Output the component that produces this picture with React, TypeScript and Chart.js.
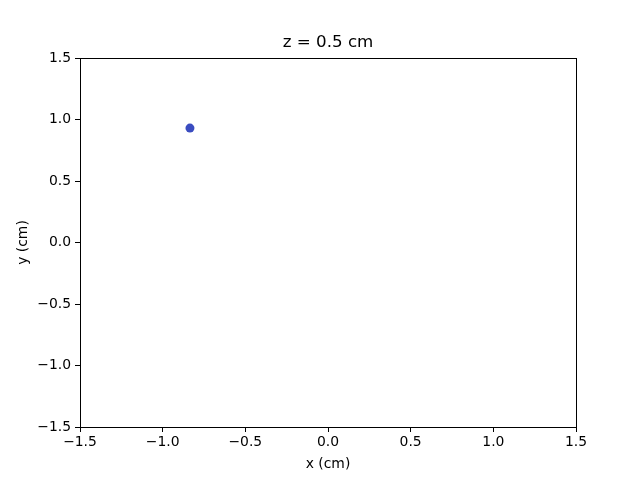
import React, { useEffect, useRef } from "react";
import { Chart, registerables } from "chart.js";

Chart.register(...registerables);

const titleText = "z = 0.5 cm";
const xLabel = "x (cm)";
const yLabel = "y (cm)";
const xTicks = [-1.5, -1.0, -0.5, 0.0, 0.5, 1.0, 1.5];
const yTicks = [-1.5, -1.0, -0.5, 0.0, 0.5, 1.0, 1.5];
const pointX = [-0.835];
const pointY = [0.93];
const pointColor = "#3a4cc0";

const FONT = "'DejaVu Sans', sans-serif";

const fmt = (v: number) => {
  const s = v.toFixed(1);
  return s.startsWith("-") ? "\u2212" + s.slice(1) : s;
};

const framePlugin = {
  id: "frame",
  afterDraw(chart: any) {
    const { ctx, chartArea } = chart;
    ctx.save();
    ctx.strokeStyle = "#000";
    ctx.lineWidth = 1;
    ctx.strokeRect(
      Math.round(chartArea.left) + 0.5,
      Math.round(chartArea.top) + 0.5,
      Math.round(chartArea.right - chartArea.left),
      Math.round(chartArea.bottom - chartArea.top)
    );
    ctx.fillStyle = "#000";
    ctx.font = `16.7px ${FONT}`;
    ctx.textAlign = "center";
    ctx.textBaseline = "middle";
    ctx.fillText(titleText, (chartArea.left + chartArea.right) / 2, 43);
    ctx.restore();
  },
};

export default function App() {
  const ref = useRef<HTMLCanvasElement>(null);
  useEffect(() => {
    document.body.style.margin = "0";
    const font = FONT;
    const chart = new Chart(ref.current!, {
      type: "scatter",
      data: {
        datasets: [
          {
            data: pointX.map((x, i) => ({ x, y: pointY[i] })),
            backgroundColor: pointColor,
            borderColor: pointColor,
            pointRadius: 4.5,
            borderWidth: 0,
          },
        ],
      },
      options: {
        animation: false,
        responsive: false,
        layout: { padding: { left: 0, right: 64, top: 58, bottom: 0 } },
        plugins: {
          legend: { display: false },
          tooltip: { enabled: false },
          title: { display: false },
        },
        scales: {
          x: {
            type: "linear",
            min: -1.5,
            max: 1.5,
            afterFit: (s: any) => {
              s.height = 53;
            },
            afterBuildTicks: (s: any) => {
              s.ticks = xTicks.map((v) => ({ value: v }));
            },
            ticks: {
              color: "#000",
              font: { family: font, size: 13.9 },
              padding: 2,
              callback: (v: any) => fmt(Number(v)),
              maxRotation: 0,
              autoSkip: false,
            },
            grid: {
              display: true,
              drawOnChartArea: false,
              drawTicks: true,
              tickLength: 5,
              tickColor: "#000",
              tickWidth: 1,
            },
            border: { display: true, color: "#000", width: 1 },
            title: {
              display: true,
              text: xLabel,
              color: "#000",
              font: { family: font, size: 13.9, lineHeight: 1.2 },
              padding: { top: 0, bottom: 7 },
            },
          },
          y: {
            type: "linear",
            min: -1.5,
            max: 1.5,
            afterFit: (s: any) => {
              s.width = 80;
            },
            afterBuildTicks: (s: any) => {
              s.ticks = yTicks.map((v) => ({ value: v }));
            },
            ticks: {
              color: "#000",
              font: { family: font, size: 13.9 },
              padding: 4,
              callback: (v: any) => fmt(Number(v)),
              autoSkip: false,
            },
            grid: {
              display: true,
              drawOnChartArea: false,
              drawTicks: true,
              tickLength: 5,
              tickColor: "#000",
              tickWidth: 1,
            },
            border: { display: true, color: "#000", width: 1 },
            title: {
              display: true,
              text: yLabel,
              color: "#000",
              font: { family: font, size: 13.9, lineHeight: 1.2 },
              padding: { top: 15, bottom: 0 },
            },
          },
        },
      },
      plugins: [framePlugin],
    } as any);
    return () => chart.destroy();
  }, []);
  return (
    <div style={{ position: "fixed", left: 0, top: 0, width: 640, height: 480, background: "#fff" }}>
      <canvas ref={ref} width={640} height={480} style={{ width: 640, height: 480 }} />
    </div>
  );
}
